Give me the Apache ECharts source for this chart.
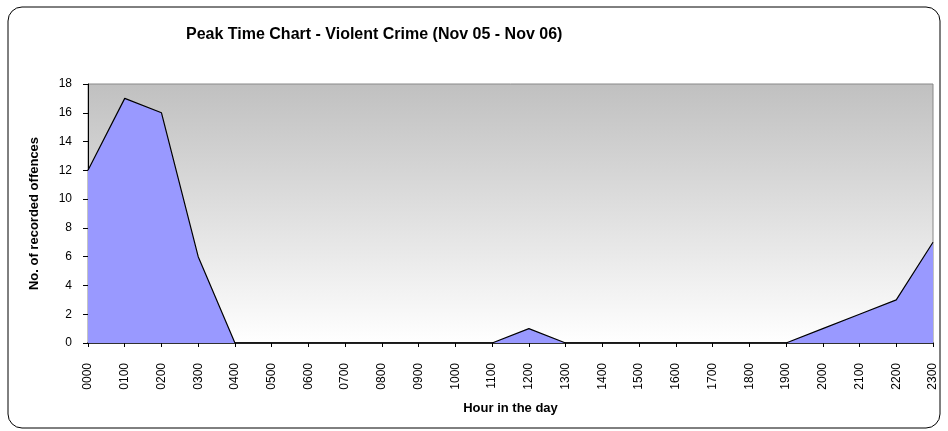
<!DOCTYPE html>
<html>
<head>
<meta charset="utf-8">
<script src="https://cdn.jsdelivr.net/npm/echarts@6/dist/echarts.min.js"></script>
<style>
  html, body { margin: 0; padding: 0; background: #fff; }
  #main { width: 948px; height: 431px; }
</style>
</head>
<body>
<div id="main"></div>
<script>
var hours = ['0000', '0100', '0200', '0300', '0400', '0500', '0600', '0700', '0800', '0900', '1000', '1100',
             '1200', '1300', '1400', '1500', '1600', '1700', '1800', '1900', '2000', '2100', '2200', '2300'];
var offences = [12, 17, 16, 6, 0, 0, 0, 0, 0, 0, 0, 0, 1, 0, 0, 0, 0, 0, 0, 0, 1, 2, 3, 7];

var font = 'Liberation Sans, Arial, sans-serif';

var chart = echarts.init(document.getElementById('main'));

chart.setOption({
  animation: false,
  textStyle: { fontFamily: font },
  graphic: [{
    type: 'rect',
    shape: { x: 8, y: 7, width: 932, height: 421, r: 14 },
    style: { fill: 'none', stroke: '#000', lineWidth: 1 },
    z: -10
  }],
  title: {
    text: 'Peak Time Chart - Violent Crime (Nov 05 - Nov 06)',
    left: 181,
    top: 22,
    textStyle: { fontSize: 16, fontWeight: 'bold', color: '#000', fontFamily: font }
  },
  grid: {
    left: 88, right: 15, top: 84, bottom: 88,
    show: true,
    borderColor: '#888',
    borderWidth: 1,
    backgroundColor: new echarts.graphic.LinearGradient(0, 0, 0, 1, [
      { offset: 0, color: '#c0c0c0' },
      { offset: 1, color: '#ffffff' }
    ])
  },
  xAxis: {
    type: 'category',
    data: hours,
    boundaryGap: false,
    name: 'Hour in the day',
    nameLocation: 'middle',
    nameGap: 59,
    nameTextStyle: { fontSize: 13, fontWeight: 'bold', color: '#000' },
    axisLine: { lineStyle: { color: '#000', width: 1.5 } },
    axisTick: { show: true, length: 4, lineStyle: { color: '#000' } },
    axisLabel: { rotate: 90, fontSize: 12, color: '#000', margin: 20 },
    splitLine: { show: false }
  },
  yAxis: {
    type: 'value',
    min: 0, max: 18, interval: 2,
    name: 'No. of recorded offences',
    nameLocation: 'middle',
    nameGap: 47,
    nameTextStyle: { fontSize: 13, fontWeight: 'bold', color: '#000' },
    axisLine: { show: true, lineStyle: { color: '#000', width: 1 } },
    axisTick: { show: true, length: 5, lineStyle: { color: '#000' } },
    axisLabel: { fontSize: 12, color: '#000', margin: 16 },
    splitLine: { show: false }
  },
  series: [{
    type: 'line',
    data: offences,
    symbol: 'none',
    lineStyle: { color: '#000', width: 1.2 },
    areaStyle: { color: '#9999ff', opacity: 1 },
    itemStyle: { color: '#9999ff' }
  }]
});
</script>
</body>
</html>
